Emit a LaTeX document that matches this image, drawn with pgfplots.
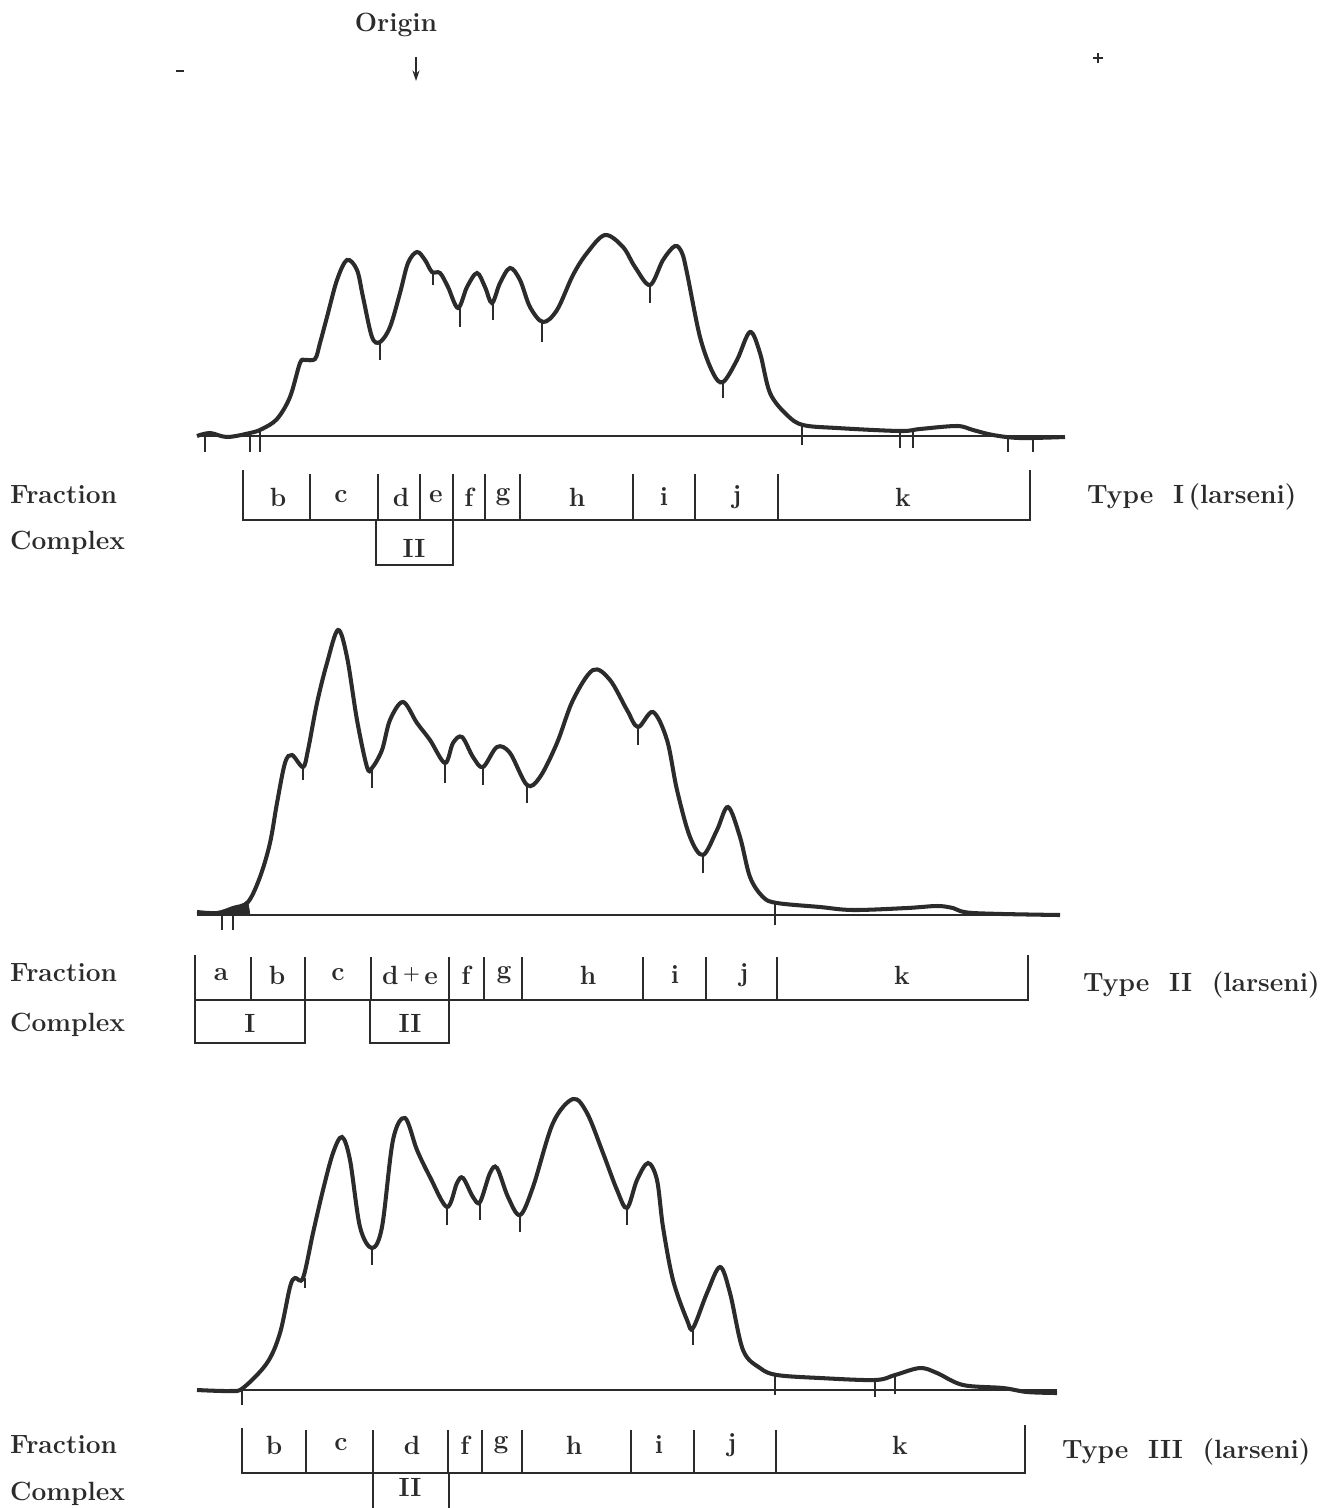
\documentclass[border=0pt]{standalone}
\usepackage{pgfplots}
\pgfplotsset{compat=1.18}
\usetikzlibrary{arrows.meta}
\definecolor{ink}{HTML}{2B2B2B}
\tikzset{lbl/.style={font=\fontsize{15}{18}\selectfont\bfseries, text=ink, inner sep=1pt}}
\newcommand\vb[3]{\draw[ink, line width=1.4pt] (axis cs:#1,#2) -- (axis cs:#1,#3);}
\newcommand\lab[3]{\node[lbl] at (axis cs:#1,#2) {#3};}
\begin{document}
\fontsize{15}{18}\selectfont\bfseries
\begin{tikzpicture}
\begin{axis}[name=ax, scale only axis, width=266mm, height=301.6mm,
  xmin=0, xmax=1330, ymin=0, ymax=1508, y dir=reverse,
  axis lines=none, clip=false, unbounded coords=jump]
% ---------- Trace 1 (Type I) ----------
\addplot[ink, line width=1.2pt] coordinates {(200,436) (1065,436)};
\addplot[ink, line width=2.3pt, smooth, tension=0.55] coordinates {
(197,436)(210,433)(227,437)(250,433)(262,429)(277,419)(290,397)(300,363)(305,360)(315,359)(320,343)(327,317)(337,280)(347,260)(357,270)(363,297)(372,337)(380,342)(390,327)(400,293)(408,263)(417,252)(425,260)(432,272)(440,273)(448,287)(458,308)(467,287)(477,273)(485,287)(492,303)(500,283)(510,268)(520,280)(530,307)(543,322)(557,310)(573,275)(587,253)(605,235)(623,247)(635,267)(650,285)(663,260)(675,246)(682,253)(687,273)(700,337)(713,373)(723,382)(737,360)(750,332)(760,353)(770,393)(787,415)(803,425)(837,428)(900,431)(920,429)(957,426)(973,430)(993,435)(1020,438)(1065,437)};
\addplot[ink, line width=0.9pt] coordinates {
(205,435)(205,452)(nan,nan)(250,433)(250,452)(nan,nan)(260,430)(260,452)(nan,nan)
(380,342)(380,360)(nan,nan)(433,272)(433,285)(nan,nan)(460,308)(460,327)(nan,nan)
(493,303)(493,320)(nan,nan)(542,322)(542,342)(nan,nan)(650,285)(650,303)(nan,nan)
(723,382)(723,398)(nan,nan)(802,425)(802,445)(nan,nan)(900,431)(900,448)(nan,nan)
(913,431)(913,448)(nan,nan)(1008,437)(1008,452)(nan,nan)(1033,437)(1033,452)};
% ---------- Trace 2 (Type II) ----------
\addplot[ink, line width=1.2pt] coordinates {(197,915) (1060,915)};
\addplot[ink, fill=ink] coordinates {(215,915)(225,911)(235,908)(248,902)(250,915)} -- cycle;
\addplot[ink, line width=2.3pt, smooth, tension=0.55] coordinates {
(197,912)(217,913)(233,908)(248,902)(260,877)(270,843)(277,803)(285,763)(292,755)(303,767)(308,750)(317,703)(327,663)(338,630)(347,657)(357,720)(367,767)(372,768)(382,750)(390,720)(403,702)(417,723)(430,740)(445,763)(453,743)(462,737)(473,757)(483,767)(497,747)(510,753)(527,785)(540,777)(557,743)(573,700)(593,670)(610,680)(627,710)(638,727)(653,712)(667,740)(677,790)(690,837)(703,855)(717,830)(728,807)(740,837)(750,877)(763,897)(777,903)(820,907)(853,910)(907,908)(937,906)(953,908)(973,913)(1060,915)};
\addplot[ink, line width=0.9pt] coordinates {
(222,913)(222,930)(nan,nan)(233,910)(233,930)(nan,nan)(303,767)(303,780)(nan,nan)
(372,768)(372,788)(nan,nan)(445,763)(445,783)(nan,nan)(483,767)(483,785)(nan,nan)
(527,785)(527,803)(nan,nan)(638,727)(638,745)(nan,nan)(703,855)(703,873)(nan,nan)
(775,904)(775,925)};
% ---------- Trace 3 (Type III) ----------
\addplot[ink, line width=1.2pt] coordinates {(197,1390) (1057,1390)};
\addplot[ink, line width=2.3pt, smooth, tension=0.55] coordinates {
(197,1390)(230,1391)(243,1388)(267,1363)(280,1333)(290,1287)(295,1278)(303,1278)(313,1233)(323,1190)(333,1153)(342,1137)(350,1160)(360,1227)(372,1248)(382,1227)(393,1140)(405,1118)(417,1150)(430,1177)(447,1207)(457,1183)(463,1178)(473,1197)(480,1202)(490,1173)(497,1168)(508,1197)(520,1215)(533,1187)(553,1123)(573,1099)(587,1113)(603,1153)(617,1190)(627,1208)(637,1180)(648,1163)(657,1180)(663,1227)(673,1280)(687,1320)(693,1328)(707,1293)(720,1267)(730,1293)(743,1350)(760,1368)(777,1375)(820,1378)(875,1380)(895,1375)(920,1368)(937,1373)(963,1385)(1003,1388)(1027,1392)(1057,1393)};
\addplot[ink, line width=0.9pt] coordinates {
(242,1388)(242,1405)(nan,nan)(305,1278)(305,1288)(nan,nan)(372,1248)(372,1265)(nan,nan)
(447,1207)(447,1225)(nan,nan)(480,1202)(480,1220)(nan,nan)(520,1215)(520,1232)(nan,nan)
(627,1208)(627,1225)(nan,nan)(693,1328)(693,1345)(nan,nan)(775,1375)(775,1395)(nan,nan)
(875,1380)(875,1397)(nan,nan)(895,1375)(895,1394)};
% ---------- header ----------
\node[lbl] at (axis cs:396,25) {Origin};
\draw[ink, line width=1pt, -{Stealth[length=6pt,width=4pt]}] (axis cs:416,57) -- (axis cs:416,81);
\draw[ink, line width=1.6pt] (axis cs:176,71) -- (axis cs:184,71);
\draw[ink, line width=1.3pt] (axis cs:1093,58) -- (axis cs:1103,58) (axis cs:1098,53) -- (axis cs:1098,63);
% ---------- Row 1 ----------
\draw[ink, line width=1.4pt] (axis cs:243,470) -- (axis cs:243,520) -- (axis cs:1030,520) -- (axis cs:1030,470);
\pgfplotsinvokeforeach{310,378,420,453,485,520,633,695,778}{\vb{#1}{474}{520}}
\draw[ink, line width=1.4pt] (axis cs:376,520) -- (axis cs:376,565) -- (axis cs:453,565) -- (axis cs:453,520);
\node[lbl, anchor=west] at (axis cs:8,495) {Fraction};
\node[lbl, anchor=west] at (axis cs:8,543) {Complex};
\node[lbl, anchor=west] at (axis cs:1085,497) {Type~~I\,(larseni)};
\lab{278}{497}{b}\lab{341}{497}{c}\lab{401}{497}{d}\lab{436}{497}{e}\lab{469}{497}{f}
\lab{503}{497}{g}\lab{577}{497}{h}\lab{664}{497}{i}\lab{737}{497}{j}\lab{903}{497}{k}
\lab{414}{548}{II}
% ---------- Row 2 ----------
\draw[ink, line width=1.4pt] (axis cs:195,955) -- (axis cs:195,1000) -- (axis cs:1028,1000) -- (axis cs:1028,955);
\pgfplotsinvokeforeach{251,305,371,449,484,522,643,706,777}{\vb{#1}{957}{1000}}
\draw[ink, line width=1.4pt] (axis cs:195,1000) -- (axis cs:195,1043) -- (axis cs:305,1043) -- (axis cs:305,1000);
\draw[ink, line width=1.4pt] (axis cs:370,1000) -- (axis cs:370,1043) -- (axis cs:449,1043) -- (axis cs:449,1000);
\node[lbl, anchor=west] at (axis cs:8,973) {Fraction};
\node[lbl, anchor=west] at (axis cs:8,1025) {Complex};
\node[lbl, anchor=west] at (axis cs:1081,985) {Type~~II~~(larseni)};
\lab{221}{975}{a}\lab{277}{975}{b}\lab{338}{975}{c}\lab{410}{975}{d\,\raisebox{0.35ex}{\fontsize{11}{12}\selectfont+}\,e}\lab{466}{975}{f}
\lab{504}{975}{g}\lab{588}{975}{h}\lab{675}{975}{i}\lab{744}{975}{j}\lab{902}{975}{k}
\lab{250}{1023}{I}\lab{410}{1023}{II}
% ---------- Row 3 ----------
\draw[ink, line width=1.4pt] (axis cs:242,1428) -- (axis cs:242,1473) -- (axis cs:1025,1473) -- (axis cs:1025,1425);
\pgfplotsinvokeforeach{306,373,448,482,522,631,694,776}{\vb{#1}{1430}{1473}}
\vb{373}{1473}{1508}\vb{449}{1473}{1508}
\node[lbl, anchor=west] at (axis cs:8,1445) {Fraction};
\node[lbl, anchor=west] at (axis cs:8,1494) {Complex};
\node[lbl, anchor=west] at (axis cs:1060,1452) {Type~~III~~(larseni)};
\lab{274}{1445}{b}\lab{341}{1445}{c}\lab{412}{1445}{d}\lab{465}{1445}{f}\lab{501}{1445}{g}
\lab{574}{1445}{h}\lab{659}{1445}{i}\lab{732}{1445}{j}\lab{900}{1445}{k}
\lab{410}{1487}{II}
\end{axis}
\pgfresetboundingbox
\path (ax.south west) rectangle (ax.north east);
\end{tikzpicture}
\end{document}
